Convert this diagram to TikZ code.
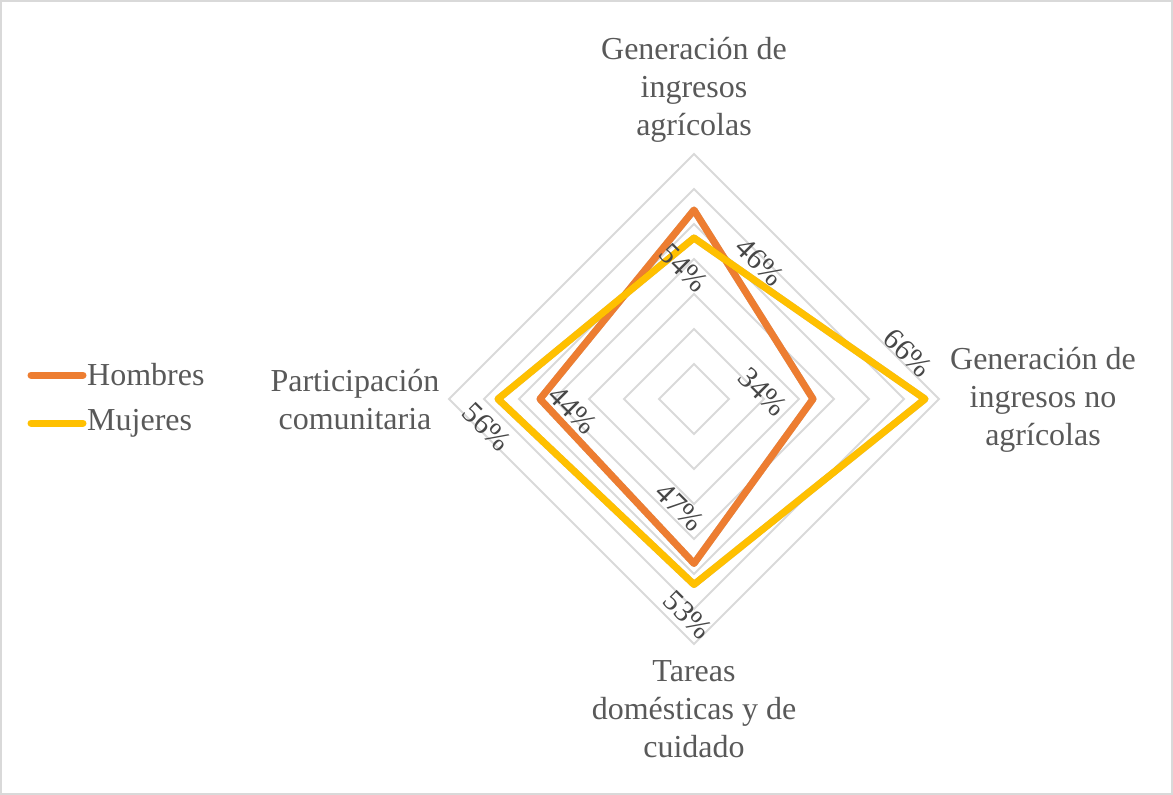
\documentclass[tikz,border=0pt]{standalone}
\usepackage{fontspec}
\setmainfont{Liberation Serif}
\usetikzlibrary{calc}
\definecolor{hcol}{HTML}{ED7D31}
\definecolor{mcol}{HTML}{FFC000}
\definecolor{gridc}{HTML}{D9D9D9}
\definecolor{txtc}{HTML}{595959}

\begin{document}
\begin{tikzpicture}[x=1pt, y=-1pt,
    lbl/.style = {text=txtc, font=\fontsize{32}{38}\selectfont, align=center, inner sep=0pt},
    pct/.style = {text=txtc!80!black, font=\fontsize{30}{30}\selectfont, rotate=-45, inner sep=0pt},
    ser/.style = {line width=7pt, line join=round},
    shadowline/.style = {line width=7pt, line join=round, black, opacity=0.22}]
  \useasboundingbox (0,0) rectangle (1173,795);
  \draw[gridc, line width=1.5pt] (1,1) rectangle (1172,794);

  \coordinate (c) at (694,399);
  \def\u{3.5}
  % rings, 10% each
  \foreach \k in {1,...,7}
    \draw[gridc, line width=2pt]
      ($(c)+(0,-35*\k)$) -- ($(c)+(35*\k,0)$) -- ($(c)+(0,35*\k)$) -- ($(c)+(-35*\k,0)$) -- cycle;

  % Hombres
  \coordinate (h1) at ($(c)+(0,-54*\u)$);
  \coordinate (h2) at ($(c)+(34*\u,0)$);
  \coordinate (h3) at ($(c)+(0,47*\u)$);
  \coordinate (h4) at ($(c)+(-44*\u,0)$);
  % Mujeres
  \coordinate (m1) at ($(c)+(0,-46*\u)$);
  \coordinate (m2) at ($(c)+(66*\u,0)$);
  \coordinate (m3) at ($(c)+(0,53*\u)$);
  \coordinate (m4) at ($(c)+(-56*\u,0)$);

  \draw[shadowline, shift={(3,4)}] (h1) -- (h2) -- (h3) -- (h4) -- cycle;
  \draw[ser, hcol] (h1) -- (h2) -- (h3) -- (h4) -- cycle;
  \draw[shadowline, shift={(3,4)}] (m1) -- (m2) -- (m3) -- (m4) -- cycle;
  \draw[ser, mcol] (m1) -- (m2) -- (m3) -- (m4) -- cycle;

  % data labels
  \node[pct] (lh1) at (684,268) {54\%};
  \node[pct] (lm1) at (760,262) {46\%};
  \node[pct] (lh2) at (763,392) {34\%};
  \node[pct] (lm2) at (908,353) {66\%};
  \node[pct] (lh3) at (680,507) {47\%};
  \node[pct] (lm3) at (688,615) {53\%};
  \node[pct] (lh4) at (573,410) {44\%};
  \node[pct] (lm4) at (487,427) {56\%};

  % axis labels
  \node[lbl] (ax1) at (694,90) {Generación de\\ingresos\\agrícolas};
  \node[lbl] (ax2) at (1043,400) {Generación de\\ingresos no\\agrícolas};
  \node[lbl] (ax3) at (694,709) {Tareas\\domésticas y de\\cuidado};
  \node[lbl] (ax4) at (355,400) {Participación\\comunitaria};

  % legend
  \node[lbl, anchor=west, inner xsep=4pt] (hom) at (83,375) {Hombres};
  \node[lbl, anchor=west, inner xsep=4pt] (muj) at (83,423) {Mujeres};
  \coordinate (hkey) at (31,375);
  \coordinate (mkey) at (31,423);
  \draw[ser, hcol, line cap=round] (hkey) -- (hom.west);
  \draw[ser, mcol, line cap=round] (mkey) -- (muj.west);
\end{tikzpicture}
\end{document}
